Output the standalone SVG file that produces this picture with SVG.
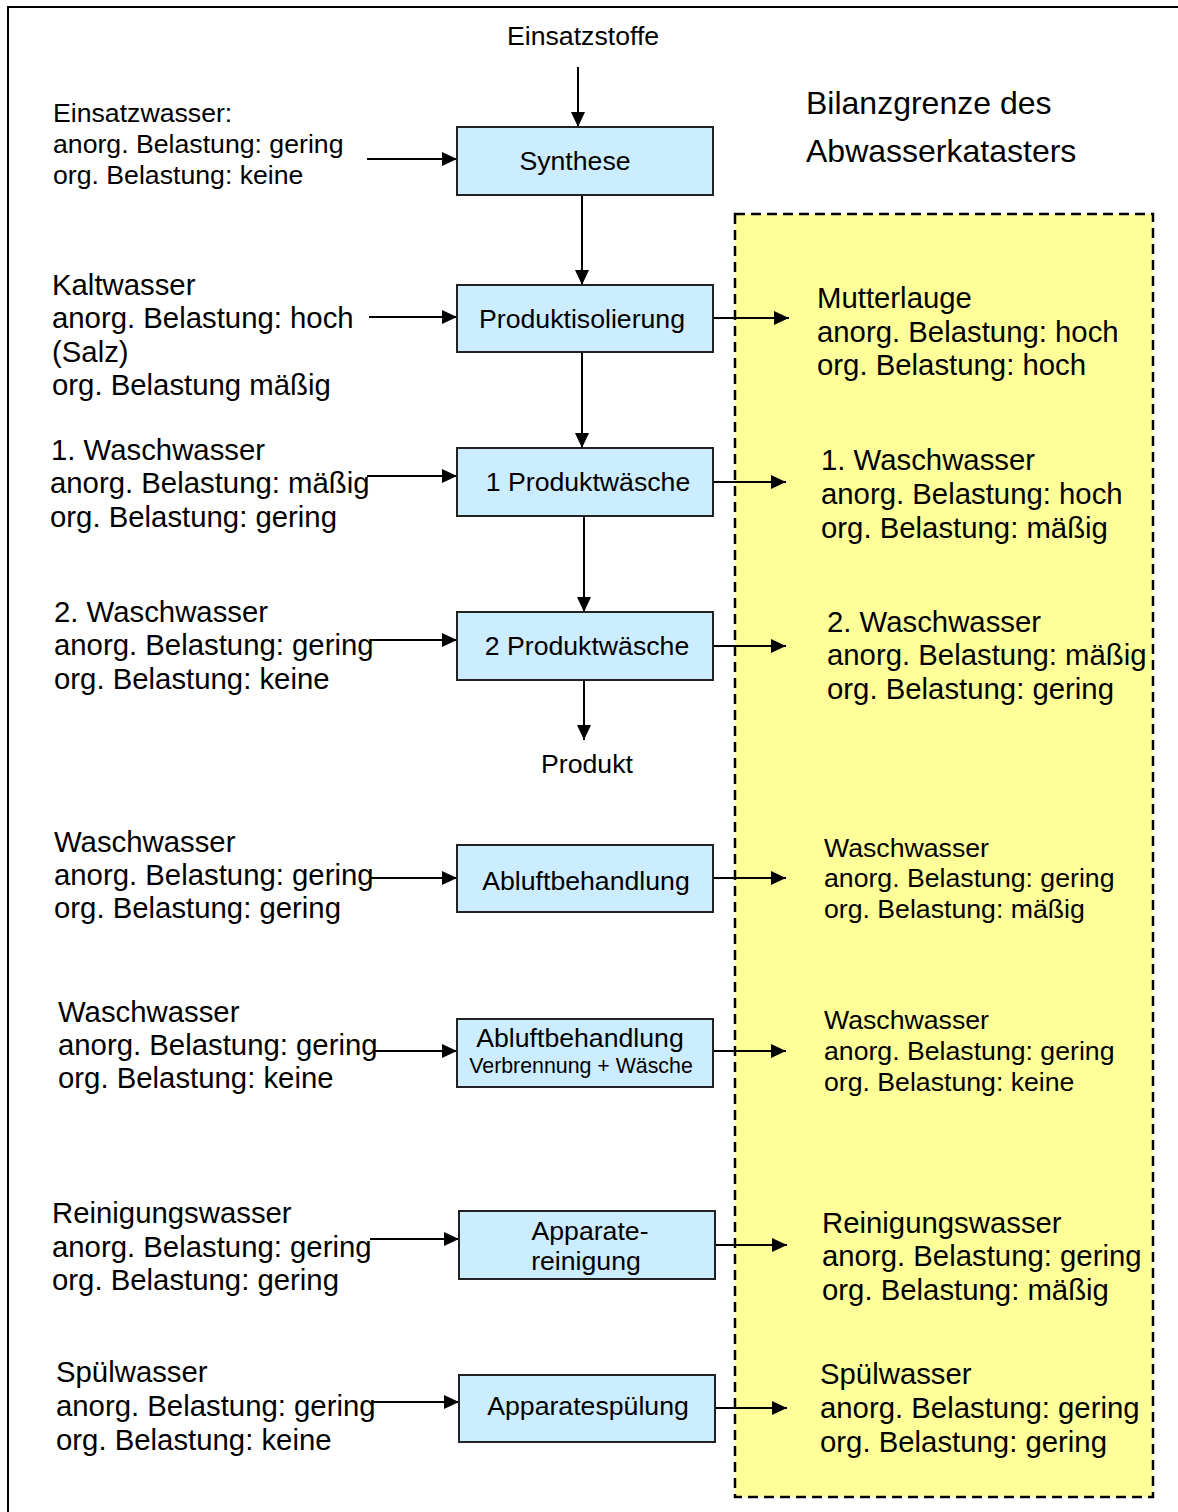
<svg xmlns="http://www.w3.org/2000/svg" width="1178" height="1512" viewBox="0 0 1178 1512">
  <defs>
    <marker id="arrow" viewBox="0 0 15 14" refX="15" refY="7" markerWidth="15" markerHeight="14" markerUnits="userSpaceOnUse" orient="auto">
      <path d="M0,0 L15,7 L0,14 Z" fill="#000"/>
    </marker>
    <style>
      text { font-family: "Liberation Sans", Arial, sans-serif; fill: #000; }
      .lg { font-size: 29.33px; }
      .md { font-size: 26.67px; }
      .sm { font-size: 21.33px; }
      .ttl { font-size: 32px; }
      .box { fill: #CCECFF; stroke: #222; stroke-width: 2; }
      .ctr { text-anchor: middle; }
      .conn line { stroke: #000; stroke-width: 2; marker-end: url(#arrow); }
    </style>
  </defs>

  <rect width="1178" height="1512" fill="#fff"/>
  <!-- outer frame -->
  <path d="M8,1512 V7 H1178" fill="none" stroke="#000" stroke-width="2"/>

  <!-- balance boundary of the waste water register -->
  <g id="bilanzgrenze">
    <rect x="735" y="214" width="418" height="1283" fill="#FFFF99" stroke="#000" stroke-width="2.5" stroke-dasharray="10,6"/>
    <text class="ttl" x="806" y="114">Bilanzgrenze des</text>
    <text class="ttl" x="806" y="162">Abwasserkatasters</text>
  </g>

  <!-- connectors -->
  <g id="connectors" class="conn">
    <line x1="578" y1="67" x2="578" y2="127"/>
    <line x1="582" y1="195" x2="582" y2="285"/>
    <line x1="582" y1="352" x2="582" y2="448"/>
    <line x1="584" y1="516" x2="584" y2="612"/>
    <line x1="584" y1="680" x2="584" y2="740"/>

    <line x1="367" y1="159" x2="457" y2="159"/>
    <line x1="369" y1="317" x2="457" y2="317"/>
    <line x1="367" y1="476" x2="457" y2="476"/>
    <line x1="370" y1="640" x2="457" y2="640"/>
    <line x1="370" y1="878" x2="457" y2="878"/>
    <line x1="374" y1="1051" x2="457" y2="1051"/>
    <line x1="370" y1="1239" x2="459" y2="1239"/>
    <line x1="372" y1="1402" x2="459" y2="1402"/>

    <line x1="713" y1="318" x2="789" y2="318"/>
    <line x1="713" y1="482" x2="786" y2="482"/>
    <line x1="713" y1="646" x2="786" y2="646"/>
    <line x1="713" y1="878" x2="786" y2="878"/>
    <line x1="713" y1="1051" x2="786" y2="1051"/>
    <line x1="715" y1="1245" x2="787" y2="1245"/>
    <line x1="715" y1="1408" x2="787" y2="1408"/>
  </g>

  <!-- process steps -->
  <g id="synthese">
    <rect class="box" x="457" y="127" width="256" height="68"/>
    <text class="md ctr" x="575" y="170">Synthese</text>
  </g>
  <g id="produktisolierung">
    <rect class="box" x="457" y="285" width="256" height="67"/>
    <text class="md ctr" x="582" y="328">Produktisolierung</text>
  </g>
  <g id="produktwaesche1">
    <rect class="box" x="457" y="448" width="256" height="68"/>
    <text class="md ctr" x="588" y="491">1 Produktwäsche</text>
  </g>
  <g id="produktwaesche2">
    <rect class="box" x="457" y="612" width="256" height="68"/>
    <text class="md ctr" x="587" y="655">2 Produktwäsche</text>
  </g>
  <g id="abluftbehandlung1">
    <rect class="box" x="457" y="845" width="256" height="67"/>
    <text class="md ctr" x="586" y="890">Abluftbehandlung</text>
  </g>
  <g id="abluftbehandlung2">
    <rect class="box" x="457" y="1019" width="256" height="68"/>
    <text class="md ctr" x="580" y="1047">Abluftbehandlung</text>
    <text class="sm ctr" x="581" y="1073">Verbrennung + Wäsche</text>
  </g>
  <g id="apparatereinigung">
    <rect class="box" x="459" y="1211" width="256" height="68"/>
    <text class="md ctr" x="590" y="1240">Apparate-</text>
    <text class="md ctr" x="586" y="1270">reinigung</text>
  </g>
  <g id="apparatespuelung">
    <rect class="box" x="459" y="1375" width="256" height="67"/>
    <text class="md ctr" x="588" y="1415">Apparatespülung</text>
  </g>

  <!-- input and output labels -->
  <g id="einsatzstoffe"><text class="md" x="507" y="45">Einsatzstoffe</text></g>
  <g id="produkt"><text class="md" x="541" y="773">Produkt</text></g>

  <g id="in-einsatzwasser" class="md">
    <text x="53" y="122">Einsatzwasser:</text>
    <text x="53" y="153">anorg. Belastung: gering</text>
    <text x="53" y="184">org. Belastung: keine</text>
  </g>
  <g id="in-kaltwasser" class="lg">
    <text x="52" y="295">Kaltwasser</text>
    <text x="52" y="328">anorg. Belastung: hoch</text>
    <text x="52" y="362">(Salz)</text>
    <text x="52" y="395">org. Belastung mäßig</text>
  </g>
  <g id="in-waschwasser1" class="lg">
    <text x="51" y="460">1. Waschwasser</text>
    <text x="50" y="493">anorg. Belastung: mäßig</text>
    <text x="50" y="527">org. Belastung: gering</text>
  </g>
  <g id="in-waschwasser2" class="lg">
    <text x="54" y="622">2. Waschwasser</text>
    <text x="54" y="655">anorg. Belastung: gering</text>
    <text x="54" y="689">org. Belastung: keine</text>
  </g>
  <g id="in-waschwasser3" class="lg">
    <text x="54" y="852">Waschwasser</text>
    <text x="54" y="885">anorg. Belastung: gering</text>
    <text x="54" y="918">org. Belastung: gering</text>
  </g>
  <g id="in-waschwasser4" class="lg">
    <text x="58" y="1022">Waschwasser</text>
    <text x="58" y="1055">anorg. Belastung: gering</text>
    <text x="58" y="1088">org. Belastung: keine</text>
  </g>
  <g id="in-reinigungswasser" class="lg">
    <text x="52" y="1223">Reinigungswasser</text>
    <text x="52" y="1257">anorg. Belastung: gering</text>
    <text x="52" y="1290">org. Belastung: gering</text>
  </g>
  <g id="in-spuelwasser" class="lg">
    <text x="56" y="1382">Spülwasser</text>
    <text x="56" y="1416">anorg. Belastung: gering</text>
    <text x="56" y="1450">org. Belastung: keine</text>
  </g>

  <g id="out-mutterlauge" class="lg">
    <text x="817" y="308">Mutterlauge</text>
    <text x="817" y="342">anorg. Belastung: hoch</text>
    <text x="817" y="375">org. Belastung: hoch</text>
  </g>
  <g id="out-waschwasser1" class="lg">
    <text x="821" y="470">1. Waschwasser</text>
    <text x="821" y="504">anorg. Belastung: hoch</text>
    <text x="821" y="538">org. Belastung: mäßig</text>
  </g>
  <g id="out-waschwasser2" class="lg">
    <text x="827" y="632">2. Waschwasser</text>
    <text x="827" y="665">anorg. Belastung: mäßig</text>
    <text x="827" y="699">org. Belastung: gering</text>
  </g>
  <g id="out-waschwasser3" class="md">
    <text x="824" y="857">Waschwasser</text>
    <text x="824" y="887">anorg. Belastung: gering</text>
    <text x="824" y="918">org. Belastung: mäßig</text>
  </g>
  <g id="out-waschwasser4" class="md">
    <text x="824" y="1029">Waschwasser</text>
    <text x="824" y="1060">anorg. Belastung: gering</text>
    <text x="824" y="1091">org. Belastung: keine</text>
  </g>
  <g id="out-reinigungswasser" class="lg">
    <text x="822" y="1233">Reinigungswasser</text>
    <text x="822" y="1266">anorg. Belastung: gering</text>
    <text x="822" y="1300">org. Belastung: mäßig</text>
  </g>
  <g id="out-spuelwasser" class="lg">
    <text x="820" y="1384">Spülwasser</text>
    <text x="820" y="1418">anorg. Belastung: gering</text>
    <text x="820" y="1452">org. Belastung: gering</text>
  </g>
</svg>
